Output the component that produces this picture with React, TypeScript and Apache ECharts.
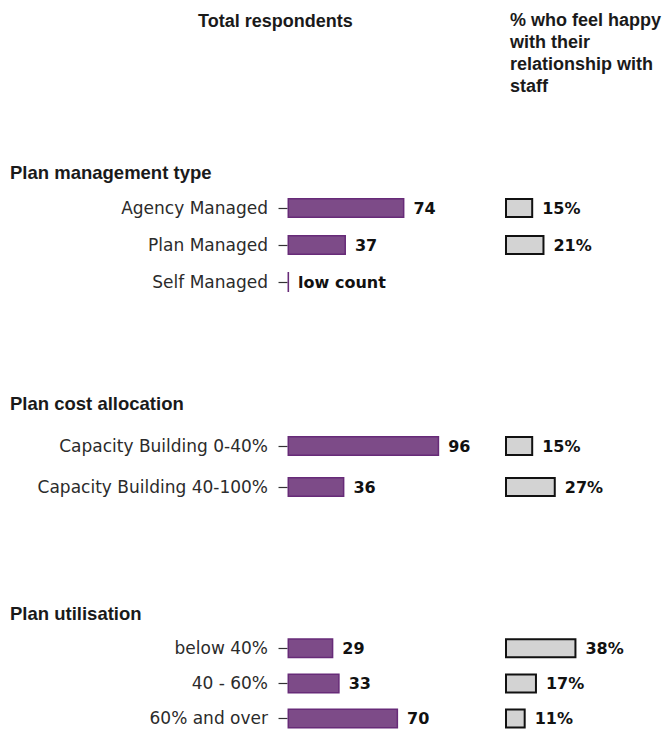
import React, { useEffect, useRef } from "react";
import * as echarts from "echarts";

const groups = ["Plan management type", "Plan cost allocation", "Plan utilisation"];
const categories = [
  ["Agency Managed", "Plan Managed", "Self Managed"],
  ["Capacity Building 0-40%", "Capacity Building 40-100%"],
  ["below 40%", "40 - 60%", "60% and over"],
];
const totals = [
  [74, 37, 1],
  [96, 36],
  [29, 33, 70],
];
const totalLabels = [
  ["74", "37", "low count"],
  ["96", "36"],
  ["29", "33", "70"],
];
const happyPct = [
  [15, 21, null],
  [15, 27],
  [38, 17, 11],
];
const leftTitle = "Total respondents";
const rightTitle = "% who feel happy\nwith their\nrelationship with\nstaff";

// layout (pixels)
const panelTops = [189.5, 425.5, 630.75];
const rowStep = [37, 41, 36.5];
const headerTops = [163, 394, 604];

export default function App() {
  const ref = useRef<HTMLDivElement>(null);
  useEffect(() => {
    if (!ref.current) return;
    const chart = echarts.init(ref.current, null, { renderer: "svg" });
    const grids: any[] = [];
    const xAxes: any[] = [];
    const yAxes: any[] = [];
    const series: any[] = [];
    const titleStyle = { fontFamily: "Liberation Sans", fontWeight: "bold", fontSize: 18, color: "#1a1a1a" };
    const titles: any[] = [
      { text: leftTitle, left: 193, top: 7, padding: 5, textStyle: titleStyle },
      { text: rightTitle, left: 505, top: 4, padding: 5, textStyle: { ...titleStyle, lineHeight: 22 } },
    ];
    groups.forEach((g, gi) => {
      const n = categories[gi].length;
      const h = n * rowStep[gi];
      titles.push({
        text: g,
        left: 10,
        top: headerTops[gi],
        padding: 0,
        textStyle: { ...titleStyle, fontSize: 18.5 },
      });
      grids.push({ left: 282, width: 163.5, top: panelTops[gi], height: h });
      grids.push({ left: 505, width: 94, top: panelTops[gi], height: h });
      const li = gi * 2;
      const ri = gi * 2 + 1;
      xAxes.push({ gridIndex: li, type: "value", min: -3.5, max: 100, show: false });
      xAxes.push({ gridIndex: ri, type: "value", min: 0, max: 50, show: false });
      yAxes.push({
        gridIndex: li,
        type: "category",
        data: categories[gi],
        inverse: true,
        axisLine: { show: false },
        axisTick: { show: true, length: 9, lineStyle: { color: "#333", width: 1.2 }, alignWithLabel: true },
        axisLabel: { margin: 14, fontFamily: "DejaVu Sans", fontSize: 17, color: "#2b2b2b" },
        splitLine: { show: false },
      });
      yAxes.push({
        gridIndex: ri,
        type: "category",
        data: categories[gi],
        inverse: true,
        show: false,
      });
      series.push({
        type: "bar",
        xAxisIndex: li,
        yAxisIndex: li,
        data: totals[gi],
        barWidth: 20,
        itemStyle: { color: "#7d4b88", borderColor: "#672b78", borderWidth: 1.5 },
        label: {
          show: true,
          position: "right",
          distance: 9,
          formatter: (p: any) => totalLabels[gi][p.dataIndex],
          fontFamily: "DejaVu Sans",
          fontWeight: "bold",
          fontSize: 16,
          color: "#111",
        },
      });
      series.push({
        type: "bar",
        xAxisIndex: ri,
        yAxisIndex: ri,
        data: happyPct[gi],
        barWidth: 20,
        itemStyle: { color: "#d3d3d3", borderColor: "#111", borderWidth: 2 },
        label: {
          show: true,
          position: "right",
          distance: 9,
          formatter: (p: any) => (p.value == null ? "" : p.value + "%"),
          fontFamily: "DejaVu Sans",
          fontWeight: "bold",
          fontSize: 16,
          color: "#111",
        },
      });
    });
    chart.setOption({
      animation: false,
      backgroundColor: "#ffffff",
      title: titles,
      grid: grids,
      xAxis: xAxes,
      yAxis: yAxes,
      series,
    });
    return () => chart.dispose();
  }, []);
  return <div ref={ref} style={{ width: 665, height: 736, position: "absolute", left: 0, top: 0 }} />;
}
